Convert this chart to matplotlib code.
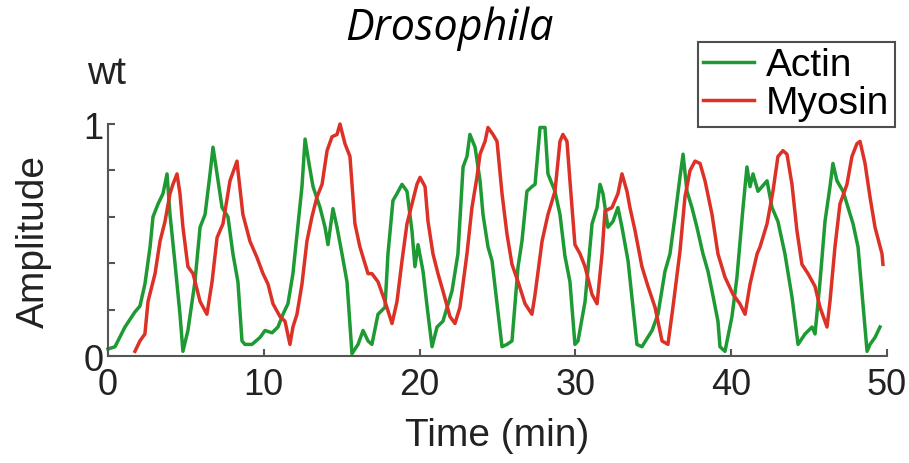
import matplotlib.pyplot as plt

# Actin trace (time in min, normalised amplitude)
actin_t = [0.0, 0.45, 1.09, 1.73, 2.05, 2.37, 2.70, 2.89, 3.21, 3.53, 3.79, 3.98, 4.30, 4.62, 4.81,
           5.13, 5.58, 5.91, 6.23, 6.55, 6.74, 7.00, 7.32, 7.70, 8.02, 8.34, 8.60, 8.79, 9.24, 9.76,
           10.08, 10.53, 10.91, 11.23, 11.55, 11.87, 12.20, 12.45, 12.65, 12.90, 13.16, 13.61, 13.93,
           14.12, 14.44, 14.70, 15.02, 15.34, 15.66, 16.05, 16.37, 16.69, 16.94, 17.33, 17.78, 17.97,
           18.29, 18.55, 18.87, 19.19, 19.51, 19.70, 19.90, 20.22, 20.54, 20.80, 21.12, 21.50, 22.08,
           22.46, 22.79, 23.04, 23.23, 23.56, 23.88, 24.07, 24.39, 24.65, 24.97, 25.29, 25.61, 25.93,
           26.32, 26.57, 26.89, 27.21, 27.41, 27.73, 28.05, 28.24, 28.69, 29.01, 29.33, 29.65, 29.97,
           30.17, 30.62, 31.07, 31.39, 31.58, 31.77, 32.09, 32.41, 32.73, 32.99, 33.38, 33.70, 33.95,
           34.27, 34.92, 35.30, 35.75, 36.07, 36.39, 36.71, 36.91, 37.16, 37.48, 37.80, 38.19, 38.51,
           38.77, 39.15, 39.28, 39.60, 40.05, 40.37, 40.76, 41.01, 41.21, 41.40, 41.72, 41.98, 42.30,
           42.62, 43.00, 43.45, 43.90, 44.29, 44.74, 45.19, 45.38, 45.70, 46.02, 46.34, 46.53, 46.79,
           47.18, 47.50, 47.82, 48.14, 48.40, 48.72, 48.91, 49.23, 49.55]
actin = [0.03, 0.04, 0.125, 0.19, 0.215, 0.31, 0.47, 0.60, 0.655, 0.70, 0.785, 0.61, 0.40, 0.18, 0.02,
         0.11, 0.32, 0.555, 0.61, 0.785, 0.90, 0.785, 0.64, 0.60, 0.44, 0.32, 0.065, 0.05, 0.05, 0.08,
         0.11, 0.10, 0.125, 0.18, 0.225, 0.355, 0.57, 0.73, 0.935, 0.83, 0.73, 0.64, 0.555,
         0.48, 0.635, 0.555, 0.44, 0.32, 0.01, 0.05, 0.11, 0.065, 0.05, 0.18, 0.21, 0.44,
         0.67, 0.70, 0.74, 0.71, 0.54, 0.385, 0.48, 0.365, 0.18, 0.04, 0.125, 0.15, 0.28,
         0.44, 0.815, 0.86, 0.955, 0.90, 0.755, 0.61, 0.47, 0.41, 0.225, 0.04, 0.05, 0.065,
         0.385, 0.495, 0.71, 0.73, 0.74, 0.985, 0.985, 0.785, 0.71, 0.61, 0.43, 0.32, 0.05,
         0.065, 0.235, 0.57, 0.64, 0.74, 0.70, 0.555, 0.58, 0.64, 0.555, 0.41, 0.21, 0.05,
         0.04, 0.11, 0.18, 0.365, 0.44, 0.60, 0.77, 0.87, 0.71, 0.64, 0.555, 0.44, 0.365,
         0.28, 0.15, 0.04, 0.02, 0.17, 0.34, 0.64, 0.815, 0.73, 0.785, 0.71, 0.73, 0.755,
         0.64, 0.58, 0.44, 0.255, 0.05, 0.095, 0.125, 0.095, 0.32, 0.58, 0.73, 0.83, 0.755,
         0.71, 0.64, 0.57, 0.47, 0.27, 0.02, 0.05, 0.08, 0.125]

# Myosin trace
myosin_t = [1.73, 2.05, 2.37, 2.57, 3.02, 3.34, 3.66, 3.98, 4.17, 4.43, 4.62, 4.81, 5.13, 5.46, 5.91,
            6.35, 6.68, 7.00, 7.38, 7.83, 8.28, 8.34, 8.66, 9.11, 9.56, 9.95, 10.27, 10.59, 11.04,
            11.36, 11.68, 11.87, 12.13, 12.45, 12.77, 13.09, 13.41, 13.74, 14.06, 14.38, 14.70, 14.89,
            15.21, 15.53, 15.85, 16.17, 16.69, 16.94, 17.33, 17.78, 18.23, 18.55, 18.87, 19.19, 19.51,
            19.83, 20.03, 20.35, 20.54, 20.86, 21.18, 21.50, 21.95, 22.27, 22.59, 23.04, 23.36, 23.68,
            23.88, 24.20, 24.39, 24.71, 24.97, 25.29, 25.61, 25.93, 26.32, 26.77, 27.21, 27.41, 27.86,
            28.24, 28.69, 29.01, 29.20, 29.46, 29.65, 29.97, 30.30, 30.62, 31.07, 31.39, 31.71, 31.90,
            32.35, 32.73, 32.99, 33.31, 33.50, 33.83, 34.27, 34.66, 35.11, 35.56, 35.94, 36.26, 36.71,
            37.03, 37.36, 37.68, 38.00, 38.32, 38.77, 39.15, 39.60, 40.12, 40.56, 40.89, 41.21, 41.66,
            41.85, 42.30, 42.68, 43.00, 43.32, 43.58, 43.90, 44.22, 44.54, 44.93, 45.38, 45.70, 46.15,
            46.34, 46.66, 46.98, 47.43, 47.75, 48.07, 48.27, 48.59, 48.91, 49.23, 49.68, 49.74]
myosin = [0.02, 0.065, 0.095, 0.235, 0.355, 0.495, 0.58, 0.70, 0.74, 0.785, 0.70, 0.555, 0.385, 0.355, 0.235,
          0.18, 0.32, 0.51, 0.57, 0.755, 0.84, 0.80, 0.61, 0.495, 0.425, 0.355, 0.31, 0.225, 0.17,
          0.15, 0.05, 0.125, 0.18, 0.31, 0.495, 0.60, 0.685, 0.74, 0.885, 0.945, 0.955, 1.0,
          0.915, 0.86, 0.57, 0.47, 0.355, 0.355, 0.32, 0.235, 0.14, 0.235, 0.41, 0.57, 0.655,
          0.74, 0.77, 0.73, 0.58, 0.44, 0.355, 0.28, 0.17, 0.14, 0.21, 0.44, 0.64, 0.77,
          0.87, 0.925, 0.985, 0.955, 0.925, 0.70, 0.525, 0.395, 0.32, 0.225, 0.18, 0.265, 0.495,
          0.61, 0.71, 0.925, 0.955, 0.925, 0.755, 0.48, 0.44, 0.385, 0.265, 0.225, 0.44, 0.625,
          0.64, 0.70, 0.785, 0.71, 0.64, 0.54, 0.385, 0.30, 0.21, 0.065, 0.05, 0.21, 0.45,
          0.685, 0.80, 0.84, 0.83, 0.755, 0.61, 0.44, 0.34, 0.265, 0.225, 0.18, 0.31, 0.44,
          0.47, 0.57, 0.71, 0.86, 0.885, 0.87, 0.74, 0.54, 0.395, 0.355, 0.30, 0.21, 0.125,
          0.235, 0.47, 0.655, 0.74, 0.86, 0.915, 0.925, 0.83, 0.685, 0.555, 0.44, 0.395]

x_ticks = [0, 10, 20, 30, 40, 50]
y_ticks = [0, 0.2, 0.4, 0.6, 0.8, 1.0]
y_tick_labels = ["0", "", "", "", "", "1"]

green = "#1e9a34"
red = "#dc3127"
axis_gray = "#555555"
txt = "#222222"
sans = "Liberation Sans"

fig = plt.figure(figsize=(9.09, 4.64), dpi=100)
ax = fig.add_axes([0.1188, 0.2306, 0.857, 0.50])

ax.plot(actin_t, actin, color=green, lw=2.5, label="Actin", clip_on=False)
ax.plot(myosin_t, myosin, color=red, lw=2.5, label="Myosin", clip_on=False)

ax.set_xlim(0, 50)
ax.set_ylim(0, 1)
ax.set_xticks(x_ticks)
ax.set_yticks(y_ticks)
ax.set_yticklabels(y_tick_labels)

for s in ["top", "right"]:
    ax.spines[s].set_visible(False)
for s in ["left", "bottom"]:
    ax.spines[s].set_color(axis_gray)
    ax.spines[s].set_linewidth(1.5)

ax.tick_params(direction="in", length=5, width=1.5, color=axis_gray,
               labelsize=26, labelcolor=txt)
ax.tick_params(axis="x", pad=8)
ax.tick_params(axis="y", pad=3)
for lab in ax.get_xticklabels() + ax.get_yticklabels():
    lab.set_family(sans)

ax.set_xlabel("Time (min)", fontsize=28, family=sans, color=txt, labelpad=11)
ax.set_ylabel("Amplitude", fontsize=28, family=sans, color=txt, labelpad=23)

fig.text(0.494, 0.937, "Drosophila", fontsize=31, style="italic", family="Open Sans",
         ha="center", va="center")
fig.text(0.117, 0.84, "wt", fontsize=28, family=sans, color=txt,
         ha="center", va="center")

leg = ax.legend(loc="upper right", bbox_to_anchor=(1.01, 1.355),
                prop={"family": sans, "size": 28},
                frameon=True, fancybox=False, edgecolor=txt,
                handlelength=1.3, handletextpad=0.3, borderpad=0.15, labelspacing=0.05,
                borderaxespad=0)
leg.get_frame().set_linewidth(1.5)

fig.savefig("out.png", dpi=100)
